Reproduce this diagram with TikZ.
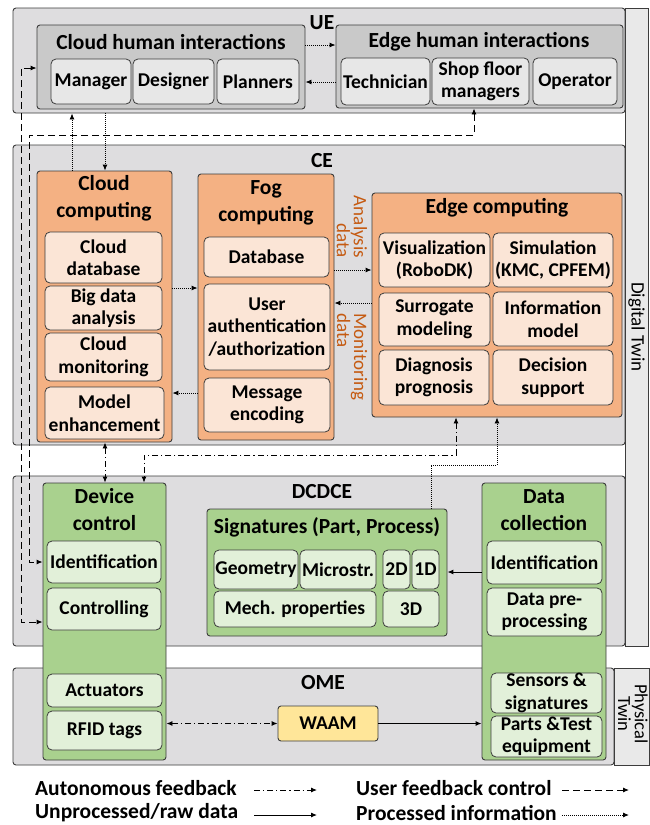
\documentclass[tikz,border=0pt]{standalone}
\usepackage{fontspec}
\setmainfont{Carlito}
\usetikzlibrary{arrows.meta}

\definecolor{frameC}{RGB}{222,221,223}
\definecolor{barC}{RGB}{233,233,233}
\definecolor{grpC}{RGB}{201,201,201}
\definecolor{subC}{RGB}{231,231,231}
\definecolor{orC}{RGB}{244,177,131}
\definecolor{orsubC}{RGB}{251,229,214}
\definecolor{grC}{RGB}{169,209,142}
\definecolor{grsubC}{RGB}{226,240,217}
\definecolor{waamC}{RGB}{255,230,153}
\definecolor{brownC}{RGB}{197,90,17}
\definecolor{lineC}{RGB}{60,60,60}

\newcommand\TitleFont{\fontsize{21.5}{27}\selectfont\bfseries}
\newcommand\ItemFont{\fontsize{19.5}{22.5}\selectfont\bfseries}
\newcommand\SideFont{\fontsize{19}{17}\selectfont}

% box from two corners: style, name, x1, y1, x2, y2, text
\newcommand\mkbox[7]{%
  \pgfmathsetmacro\bxcx{(#3+#5)/2}%
  \pgfmathsetmacro\bxcy{(#4+#6)/2}%
  \pgfmathsetmacro\bxw{#5-#3}%
  \pgfmathsetmacro\bxh{#6-#4}%
  \node[#1, minimum width=\bxw pt, minimum height=\bxh pt] (#2) at (\bxcx,\bxcy) {#7};}

\begin{document}
\begin{tikzpicture}[x=1pt,y=-1pt,
  tip/.tip={Latex[length=6pt,width=5pt]},
  layer/.style={draw=lineC, fill=frameC, rounded corners=3pt, line width=0.9pt, inner sep=0pt},
  twinbar/.style={draw=lineC, fill=barC, line width=0.9pt, inner sep=0pt},
  grpbox/.style={draw=lineC, fill=grpC, rounded corners=3pt, line width=0.9pt, inner sep=0pt},
  grpitem/.style={draw=lineC, fill=subC, rounded corners=5pt, line width=0.8pt, inner sep=0pt, font=\ItemFont, align=center},
  orbox/.style={draw=lineC, fill=orC, rounded corners=3pt, line width=0.9pt, inner sep=0pt},
  oritem/.style={draw=lineC, fill=orsubC, rounded corners=5pt, line width=0.8pt, inner sep=0pt, font=\ItemFont, align=center},
  grbox/.style={draw=lineC, fill=grC, rounded corners=3pt, line width=0.9pt, inner sep=0pt},
  gritem/.style={draw=lineC, fill=grsubC, rounded corners=5pt, line width=0.8pt, inner sep=0pt, font=\ItemFont, align=center},
  waambox/.style={draw=lineC, fill=waamC, rounded corners=3pt, line width=0.9pt, inner sep=0pt, font=\ItemFont},
  ttl/.style={font=\TitleFont, align=center, inner sep=0pt},
  autof/.style={draw=black, line width=0.9pt, dash pattern=on 6pt off 3pt on 1.2pt off 3pt},
  userf/.style={draw=black, line width=0.9pt, dash pattern=on 7pt off 4pt},
  rawd/.style={draw=black, line width=1pt},
  proc/.style={draw=black, line width=0.9pt, dash pattern=on 1pt off 1pt}
]
\useasboundingbox (0,0) rectangle (650,825);
\fill[white] (0,0) rectangle (650,825);

% ---------- layers ----------
\mkbox{layer}{ue}{13}{8}{625}{113}{}
\mkbox{layer}{ce}{13}{145}{625}{445}{}
\mkbox{layer}{dcdce}{13}{476}{625}{646}{}
\mkbox{layer}{ome}{13}{668}{614}{765}{}
\mkbox{twinbar}{dtbar}{625}{8}{648}{646}{}
\mkbox{twinbar}{ptbar}{614}{668}{649}{765}{}
\node[font=\fontsize{19}{22}\selectfont, rotate=-90] (dtlabel) at (dtbar.center |- 0,327) {Digital Twin};
\node[font=\fontsize{18.5}{15}\selectfont, rotate=-90, align=center] (ptlabel) at (633,714) {Physical\\Twin};

\node[ttl] (uelabel) at (322,23) {UE};
\node[ttl] (celabel) at (322,161) {CE};
\node[ttl] (dcdcelabel) at (322,492) {DCDCE};
\node[ttl] (omelabel) at (323,683) {OME};

% ---------- UE ----------
\mkbox{grpbox}{chi}{37}{25}{305}{109}{}
\node[ttl] (chititle) at (171,42) {Cloud human interactions};
\mkbox{grpitem}{manager}{51}{59}{131}{104}{Manager}
\mkbox{grpitem}{designer}{133}{59}{214}{104}{Designer}
\mkbox{grpitem}{planners}{217}{59}{299}{104}{Planners}

\mkbox{grpbox}{ehi}{336}{25}{623}{108}{}
\node[ttl] (ehititle) at (479,42) {Edge human interactions};
\mkbox{grpitem}{technician}{341}{58}{430}{105}{Technician}
\mkbox{grpitem}{shopfloor}{432}{58}{529}{105}{Shop floor\\managers}
\mkbox{grpitem}{operator}{533}{58}{617}{105}{Operator}

% ---------- CE ----------
\mkbox{orbox}{cloudc}{37}{171}{172}{442}{}
\node[ttl] (cloudctitle) at (104,198) {Cloud\\computing};
\mkbox{oritem}{clouddb}{45}{232}{162}{283}{Cloud\\database}
\mkbox{oritem}{bigdata}{45}{286}{162}{330}{Big data\\analysis}
\mkbox{oritem}{cloudmon}{45}{333}{162}{381}{Cloud\\monitoring}
\mkbox{oritem}{modelenh}{45}{387}{164}{439}{Model\\enhancement}

\mkbox{orbox}{fogc}{198}{174}{334}{440}{}
\node[ttl] (fogctitle) at (266,203) {Fog\\computing};
\mkbox{oritem}{database}{204}{237}{329}{277}{Database}
\mkbox{oritem}{userauth}{204}{284}{330}{370}{User\\authentication\\/authorization}
\mkbox{oritem}{msgenc}{204}{378}{330}{432}{Message\\encoding}

\mkbox{orbox}{edgec}{372}{193}{622}{417}{}
\node[ttl] (edgectitle) at (497,208) {Edge computing};
\mkbox{oritem}{visual}{379}{233}{490}{287}{Visualization\\(RoboDK)}
\mkbox{oritem}{simul}{493}{233}{613}{287}{Simulation\\(KMC, CPFEM)}
\mkbox{oritem}{surrog}{379}{293}{490}{346}{Surrogate\\modeling}
\mkbox{oritem}{infomodel}{493}{292}{613}{346}{Information\\model}
\mkbox{oritem}{diagn}{379}{350}{489}{405}{Diagnosis\\prognosis}
\mkbox{oritem}{decision}{493}{350}{613}{405}{Decision\\support}

\node[font=\SideFont, text=brownC, rotate=-90, align=right] (analysislabel) at (352,227) {Analysis\\data};
\node[font=\SideFont, text=brownC, rotate=-90, align=left] (monitorlabel) at (352,357) {Monitoring\\data};

% ---------- DCDCE / OME ----------
\mkbox{grbox}{devctrl}{43}{483}{166}{760}{}
\node[ttl] (devctrltitle) at (104.5,510) {Device\\control};
\mkbox{gritem}{ident1}{47}{541}{161}{583}{Identification}
\mkbox{gritem}{controlling}{47}{588}{161}{630}{Controlling}
\mkbox{gritem}{actuators}{47}{674}{162}{707}{Actuators}
\mkbox{gritem}{rfid}{47}{711}{162}{750}{RFID tags}

\mkbox{grbox}{signatures}{207}{509}{447}{636}{}
\node[ttl] (sigtitle) at (327,527) {Signatures (Part, Process)};
\mkbox{gritem}{geometry}{214}{550}{298}{589}{Geometry}
\mkbox{gritem}{microstr}{300}{550}{376}{589}{Microstr.}
\mkbox{gritem}{twod}{383}{550}{410}{589}{2D}
\mkbox{gritem}{oned}{412}{550}{439}{589}{1D}
\mkbox{gritem}{mechprop}{214}{591}{376}{627}{Mech. properties}
\mkbox{gritem}{threed}{383}{591}{439}{627}{3D}

\mkbox{grbox}{datacoll}{482}{483}{606}{760}{}
\node[ttl] (datacolltitle) at (544,510) {Data\\collection};
\mkbox{gritem}{ident2}{487}{541}{602}{584}{Identification}
\mkbox{gritem}{preproc}{487}{588}{602}{636}{Data pre-\\processing}
\mkbox{gritem}{sensors}{491}{673}{602}{713}{Sensors \&\\signatures}
\mkbox{gritem}{parts}{491}{716}{602}{757}{Parts \&Test\\equipment}

\mkbox{waambox}{waam}{278}{706}{378}{741}{WAAM}

% ---------- helper coordinates ----------
\coordinate (r45) at (0,45);
\coordinate (r82) at (0,82);
\coordinate (r68) at (0,68);
\coordinate (r135) at (0,135);
\coordinate (r270) at (0,270);
\coordinate (r288) at (0,288);
\coordinate (r303) at (0,303);
\coordinate (r393) at (0,393);
\coordinate (r455) at (0,455);
\coordinate (r465) at (0,465);
\coordinate (r572) at (0,572);
\coordinate (r622) at (0,622);
\coordinate (c21) at (21,0);
\coordinate (c29) at (29,0);
\coordinate (c72) at (72,0);
\coordinate (c105) at (105,0);
\coordinate (c144) at (144,0);
\coordinate (c431) at (431,0);
\coordinate (c456) at (456,0);
\coordinate (c474) at (474,0);
\coordinate (c497) at (497,0);

% ---------- connectors ----------
% processed information
\draw[proc,-tip] (chi.east |- r45) -- (ehi.west |- r45);
\draw[proc,-tip] (ehi.west |- r82) -- (chi.east |- r82);
\draw[proc,-tip] (cloudc.north -| c72) -- (ue.south -| c72);
\draw[proc,-tip] (ue.south -| c105) -- (cloudc.north -| c105);
\draw[proc,-tip] (cloudc.east |- r288) -- (fogc.west |- r288);
\draw[proc,-tip] (fogc.west |- r393) -- (cloudc.east |- r393);
\draw[proc,-tip] (fogc.east |- r270) -- (edgec.west |- r270);
\draw[proc,-tip] (edgec.west |- r303) -- (fogc.east |- r303);
\draw[proc,-tip] (signatures.north -| c431) -- (c431 |- r465) -- (c497 |- r465) -- (edgec.south -| c497);

% autonomous feedback
\draw[autof,tip-tip] (cloudc.south -| c105) -- (devctrl.north -| c105);
\draw[autof,tip-tip] (edgec.south -| c456) -- (c456 |- r455) -- (c144 |- r455) -- (devctrl.north -| c144);
\draw[autof,tip-tip] (devctrl.east |- waam.west) -- (waam.west);

% user feedback control
\draw[userf,tip-tip] (ehi.south -| c474) -- (c474 |- r135) -- (c29 |- r135) -- (c29 |- ident1) -- (devctrl.west |- ident1);
\draw[userf,tip-tip] (chi.west |- r68) -- (c21 |- r68) -- (c21 |- r622) -- (devctrl.west |- r622);

% raw data
\draw[rawd,-tip] (datacoll.west |- r572) -- (signatures.east |- r572);
\draw[rawd,-tip] (waam.east) -- (datacoll.west |- waam.east);

% ---------- legend ----------
\node[font=\TitleFont, anchor=west, inner sep=0pt] (lgauto) at (35,788) {Autonomous feedback};
\node[font=\TitleFont, anchor=west, inner sep=0pt] (lgraw) at (35,813) {Unprocessed/raw data};
\node[font=\TitleFont, anchor=west, inner sep=0pt] (lguser) at (356,788) {User feedback control};
\node[font=\TitleFont, anchor=west, inner sep=0pt] (lgproc) at (356,813) {Processed information};
\coordinate (lgautoA) at (254,790); \coordinate (lgautoB) at (317,790);
\coordinate (lgrawA) at (254,815); \coordinate (lgrawB) at (317,815);
\coordinate (lguserA) at (562,790); \coordinate (lguserB) at (629,790);
\coordinate (lgprocA) at (562,815); \coordinate (lgprocB) at (629,815);
\draw[autof,-tip] (lgautoA) -- (lgautoB);
\draw[rawd,-tip] (lgrawA) -- (lgrawB);
\draw[userf,-tip] (lguserA) -- (lguserB);
\draw[proc,-tip] (lgprocA) -- (lgprocB);
\end{tikzpicture}
\end{document}
